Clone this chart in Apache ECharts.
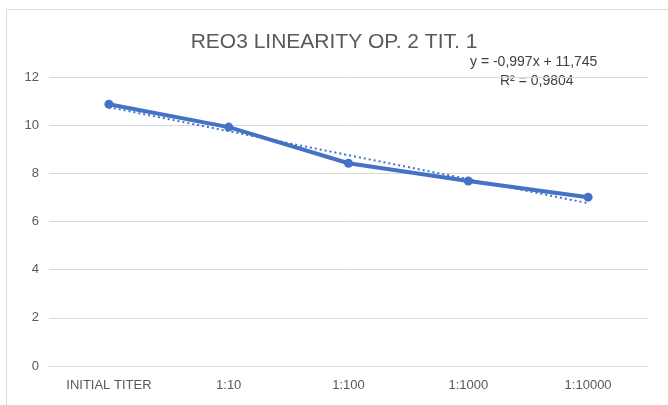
<!DOCTYPE html>
<html>
<head>
<meta charset="utf-8">
<script src="https://cdn.jsdelivr.net/npm/echarts@6/dist/echarts.min.js"></script>
<style>
html,body{margin:0;padding:0;background:#fff;}
#chart{width:668px;height:405px;}
</style>
</head>
<body>
<div id="chart"></div>
<script>
var categories = ['INITIAL TITER', '1:10', '1:100', '1:1000', '1:10000'];
var values = [10.87, 9.92, 8.42, 7.68, 7.01];
var trendSlope = -0.997;
var trendIntercept = 11.745;
var yTicks = [0, 2, 4, 6, 8, 10, 12];
var titleText = 'REO3 LINEARITY OP. 2 TIT. 1';
var eqLine1 = 'y = -0,997x + 11,745';
var eqLine2 = 'R² = 0,9804';

var trend = categories.map(function (c, i) {
  return +(trendSlope * (i + 1) + trendIntercept).toFixed(3);
});

var FONT = "'Liberation Sans Narrow', 'Arial Narrow', 'Liberation Sans', sans-serif";
var chart = echarts.init(document.getElementById('chart'), null, {renderer: 'canvas'});
chart.setOption({
  animation: false,
  backgroundColor: '#ffffff',
  title: {
    text: titleText,
    left: 'center',
    top: 27,
    textStyle: {fontFamily: FONT, fontSize: 21, fontWeight: 'normal', color: '#595959'}
  },
  graphic: [
    {type: 'rect', shape: {x: 6.5, y: 9.5, width: 720, height: 500},
     style: {fill: 'none', stroke: '#d9d9d9', lineWidth: 1}, silent: true},
    {type: 'text', left: 470, top: 55,
     style: {text: eqLine1, fontFamily: FONT, fontSize: 14, fill: '#404040'}},
    {type: 'text', left: 500, top: 74,
     style: {text: eqLine2, fontFamily: FONT, fontSize: 14, fill: '#404040'}}
  ],
  grid: {left: 49, right: 20, top: 77, bottom: 39, containLabel: false},
  xAxis: {
    type: 'category',
    data: categories,
    boundaryGap: true,
    axisLine: {show: true, lineStyle: {color: '#d9d9d9', width: 1}},
    axisTick: {show: false},
    axisLabel: {color: '#595959', fontFamily: FONT, fontSize: 13, margin: 13, interval: 0}
  },
  yAxis: {
    type: 'value',
    min: yTicks[0],
    max: yTicks[yTicks.length - 1],
    interval: 2,
    axisLine: {show: false},
    axisTick: {show: false},
    splitLine: {lineStyle: {color: '#d9d9d9', width: 1}},
    axisLabel: {color: '#595959', fontFamily: FONT, fontSize: 13, margin: 10}
  },
  series: [
    {
      type: 'line',
      data: values,
      symbol: 'circle',
      symbolSize: 9,
      lineStyle: {color: '#4472C4', width: 4},
      itemStyle: {color: '#4472C4'},
      z: 3
    },
    {
      type: 'line',
      data: trend,
      symbol: 'none',
      lineStyle: {color: '#4472C4', width: 2, type: [2, 3]},
      z: 4
    }
  ]
});
</script>
</body>
</html>
